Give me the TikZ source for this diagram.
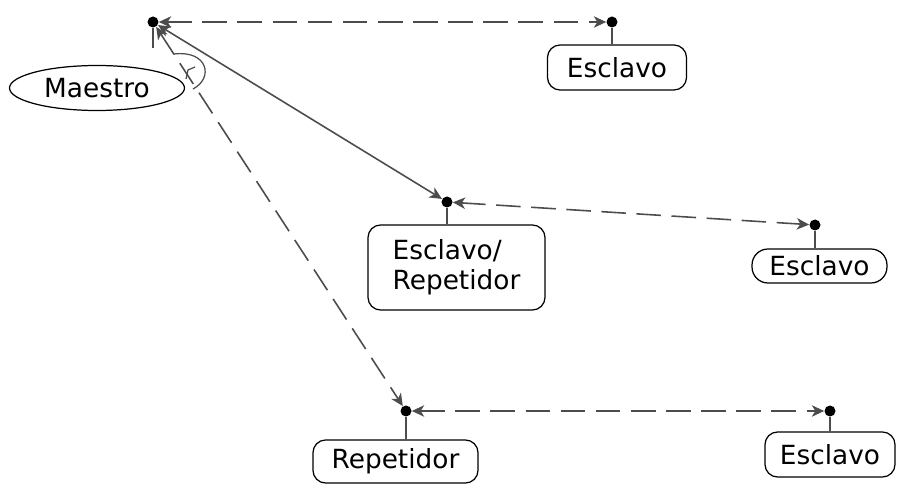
\documentclass[tikz,border=0pt]{standalone}
\usepackage{fontspec}
\setmainfont{DejaVu Sans}
\usepackage{tikz}
\usetikzlibrary{calc, shapes.geometric, arrows.meta}
\tikzstyle{joint}  = [circle, inner sep=0pt, minimum size=.22cm, fill=black]
\tikzstyle{rbox}   = [rectangle, rounded corners=.25cm, draw=black, line width=.7pt, minimum height=.9cm, inner sep=0pt, text centered, font=\fontsize{15}{17}\selectfont]
\tikzstyle{oval}   = [ellipse, draw=black, line width=.7pt, minimum width=3.5cm, minimum height=.9cm, inner sep=0pt, font=\fontsize{15}{17}\selectfont]
\tikzstyle{stem}   = [line width=.9pt, draw=black!70]
\tikzstyle{arrow}  = [stem, <->, >={Stealth[length=7pt, width=6.5pt, inset=2pt]}]
\tikzstyle{darrow} = [arrow, dash pattern=on 14pt off 6pt]
\begin{document}
\begin{tikzpicture}[x=.02cm, y=-.02cm]
      \useasboundingbox (0,0) rectangle (907,486);

      % attachment points
      \node (Mp)  [joint] at (153,22)  {};
      \node (E1p) [joint] at (612,22)  {};
      \node (ERp) [joint] at (447,202) {};
      \node (E2p) [joint] at (815,225) {};
      \node (Rp)  [joint] at (406,411) {};
      \node (E3p) [joint] at (830,411) {};

      % stations
      \node (M)  [oval] at (97,88) {Maestro};
      \node (E1) [rbox, minimum width=2.78cm] at (617,67.5) {Esclavo};
      \node (ER) [rbox, minimum width=3.54cm, minimum height=1.7cm, align=left] at (456.5,267.5) {Esclavo/\\Repetidor};
      \node (E2) [rbox, minimum width=2.7cm, minimum height=.68cm, rounded corners=.32cm] at (819.5,266) {Esclavo};
      \node (R)  [rbox, minimum width=3.3cm, minimum height=.86cm] at (395.5,461.5) {Repetidor};
      \node (E3) [rbox, minimum width=2.6cm] at (830,454.5) {Esclavo};

      \coordinate (Ms) at (153,48);

      \draw [stem] (Mp.south)  -- (Ms);
      \draw [stem] (E1p.south) -- (E1p |- E1.north);
      \draw [stem] (ERp.south) -- (ERp |- ER.north);
      \draw [stem] (E2p.south) -- (E2p |- E2.north);
      \draw [stem] (Rp.south)  -- (Rp |- R.north);
      \draw [stem] (E3p.south) -- (E3p |- E3.north);

      \draw [darrow] (Mp)  -- (E1p);
      \draw [arrow]  (Mp)  -- (ERp);
      \draw [darrow] (Mp)  -- (Rp);
      \draw [darrow] (ERp) -- (E2p);
      \draw [darrow] (Rp)  -- (E3p);

      % angle mark
      \draw [stem, line width=.7pt] (174,54) .. controls (208,50) and (214,78) .. (193,89);
      \draw [stem, line width=.7pt] (186,79) -- (188,70) -- (195,67);

    \end{tikzpicture}
\end{document}
